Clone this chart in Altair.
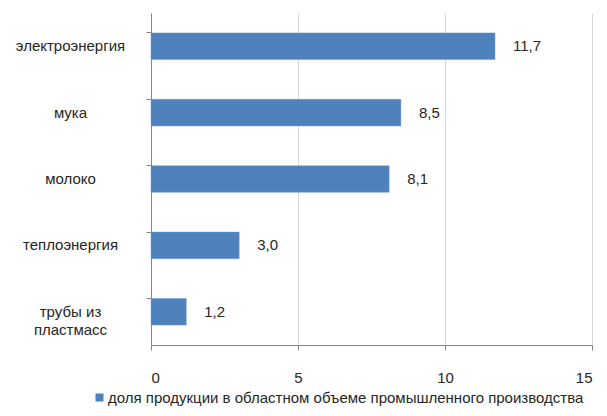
import altair as alt
import pandas as pd

categories = ["электроэнергия", "мука", "молоко", "теплоэнергия", "трубы из пластмасс"]
values = [11.7, 8.5, 8.1, 3.0, 1.2]
series_name = "доля продукции в областном объеме промышленного производства"
x_ticks = [0, 5, 10, 15]

df = pd.DataFrame({
    "cat": categories,
    "val": values,
    "label": [f"{v:.1f}".replace(".", ",") for v in values],
    "series": [series_name] * len(categories),
})

FONT = "Liberation Sans"
TEXT = "#262626"

y_enc = alt.Y("cat:N", sort=categories, title=None,
              scale=alt.Scale(paddingInner=0.6, paddingOuter=0.3),
              axis=alt.Axis(
                  domainColor="#868686", tickColor="#868686", tickSize=5,
                  bandPosition=0, labelAlign="center", labelPadding=76,
                  labelFont=FONT, labelFontSize=15, labelColor=TEXT,
                  labelLineHeight=18, labelBaseline="middle",
                  labelExpr="datum.value == 'трубы из пластмасс' ? ['трубы из', 'пластмасс'] : datum.value",
                  grid=False))

x_enc = alt.X("val:Q", title=None,
              scale=alt.Scale(domain=[0, 15], nice=False),
              axis=alt.Axis(values=x_ticks, domainColor="#868686", tickColor="#868686",
                            tickSize=5, labelPadding=20, labelFont=FONT, labelFontSize=15,
                            labelColor=TEXT, gridColor="#d9d9d9", grid=True))

bars = alt.Chart(df).mark_bar(color="#4f81bd", stroke="#6f9bd0", strokeWidth=0.5).encode(
    x=x_enc, y=y_enc,
    color=alt.Color("series:N", scale=alt.Scale(range=["#4f81bd"]),
                    legend=alt.Legend(title=None, orient="none", legendX=-59, legendY=377,
                                      symbolType="square", symbolSize=64,
                                      symbolStrokeWidth=0,
                                      labelFont=FONT, labelFontSize=15, labelColor=TEXT,
                                      labelOffset=1, labelLimit=0)))

labels = alt.Chart(df).mark_text(align="left", dx=18, font=FONT, fontSize=15, color=TEXT).encode(
    x="val:Q", y=alt.Y("cat:N", sort=categories), text="label:N")

chart = (bars + labels).properties(
    width=441, height=332,
    autosize=alt.AutoSizeParams(type="none"),
    padding={"left": 143, "top": 5, "right": 7, "bottom": 63},
).configure_view(stroke=None).configure_axis(labelFont=FONT)

chart.save("out.html", embed_options={"renderer": "svg", "actions": False})
